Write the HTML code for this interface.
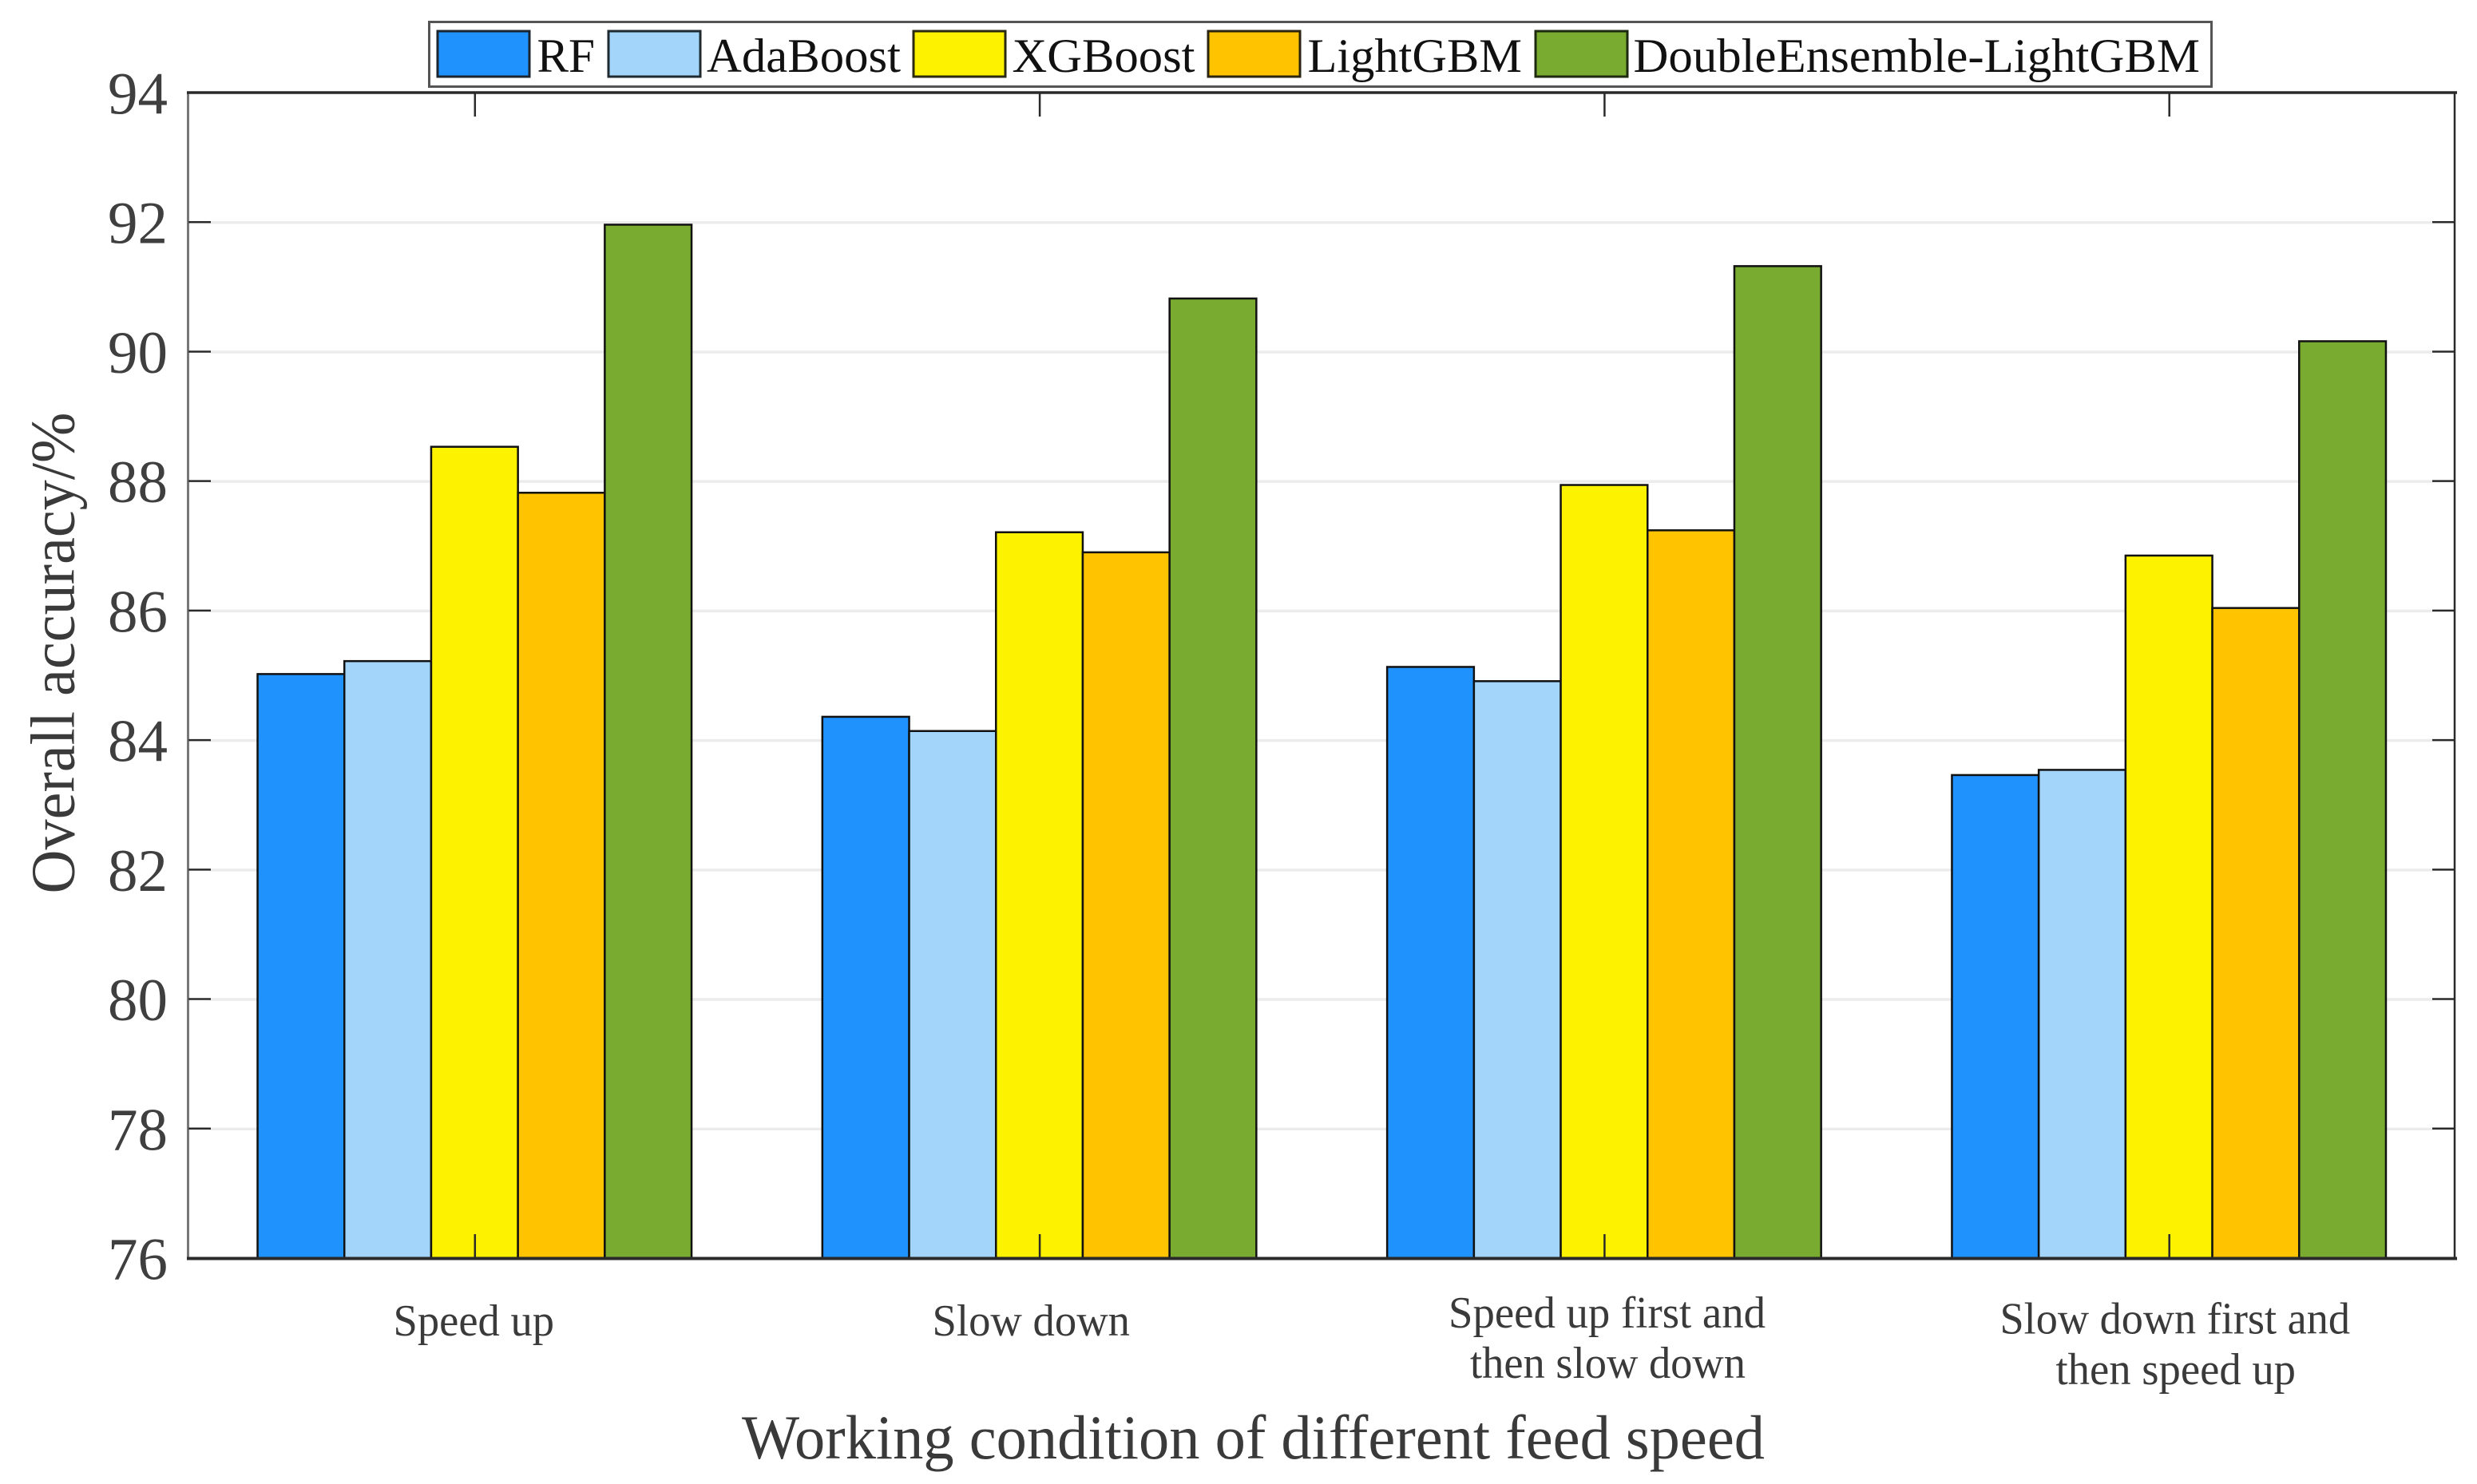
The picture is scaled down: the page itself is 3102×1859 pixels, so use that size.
<!DOCTYPE html>
<html lang="en">
<head>
<meta charset="utf-8">
<title>Overall accuracy by working condition</title>
<style>
html,body{margin:0;padding:0;background:#fff;}
svg{display:block;}
text{font-family:"Liberation Serif",serif;}
</style>
</head>
<body>
<svg id="chart" xmlns="http://www.w3.org/2000/svg" width="3102" height="1859" viewBox="0 0 3102 1859">
  <rect x="0" y="0" width="3102" height="1859" fill="#ffffff"/>
  <g id="grid"></g>
  <g id="bars"></g>
  <g id="axes">
    <line x1="235.5" y1="116" x2="235.5" y2="1578" stroke="#777" stroke-width="3"/>
    <line x1="3074" y1="116" x2="3074" y2="1578" stroke="#2a2a2a" stroke-width="2.5"/>
    <line x1="234" y1="116" x2="3077" y2="116" stroke="#2a2a2a" stroke-width="3.5"/>
    <line x1="234" y1="1576.5" x2="3077" y2="1576.5" stroke="#2a2a2a" stroke-width="4"/>
  </g>
  <g id="ticks"></g>
  <g id="ytick-labels"></g>

  <g font-size="56" fill="#3a3a3a">
    <text x="492.5" y="1673" textLength="201.5" lengthAdjust="spacingAndGlyphs">Speed up</text>
    <text x="1167.5" y="1673" textLength="247.5" lengthAdjust="spacingAndGlyphs">Slow down</text>
    <text x="1814" y="1663" textLength="397" lengthAdjust="spacingAndGlyphs">Speed up first and</text>
    <text x="1841" y="1726" textLength="345" lengthAdjust="spacingAndGlyphs">then slow down</text>
    <text x="2504.5" y="1670.5" textLength="438.5" lengthAdjust="spacingAndGlyphs">Slow down first and</text>
    <text x="2574.5" y="1734" textLength="300.5" lengthAdjust="spacingAndGlyphs">then speed up</text>
  </g>

  <text x="929" y="1827" font-size="78" fill="#3a3a3a" textLength="1281" lengthAdjust="spacingAndGlyphs">Working condition of different feed speed</text>
  <text transform="translate(92.5 1119.5) rotate(-90)" x="0" y="0" font-size="78" fill="#3a3a3a" textLength="603" lengthAdjust="spacingAndGlyphs">Overall accuracy/%</text>

  <g>
    <rect x="537.5" y="27.5" width="2232" height="81" fill="#ffffff" stroke="#555" stroke-width="3"/>
    <g>
      <rect x="548" y="39" width="115" height="57" fill="#2092fe" stroke="#1a2530" stroke-width="3"/>
      <text x="672.5" y="90" font-size="60" fill="#111" textLength="72.5" lengthAdjust="spacingAndGlyphs">RF</text>
    </g>
    <g>
      <rect x="762" y="39" width="115" height="57" fill="#a2d5f9" stroke="#1f2a30" stroke-width="3"/>
      <text x="885" y="90" font-size="60" fill="#111" textLength="243" lengthAdjust="spacingAndGlyphs">AdaBoost</text>
    </g>
    <g>
      <rect x="1144" y="39" width="115" height="57" fill="#fdf200" stroke="#2a2a10" stroke-width="3"/>
      <text x="1267.5" y="90" font-size="60" fill="#111" textLength="229" lengthAdjust="spacingAndGlyphs">XGBoost</text>
    </g>
    <g>
      <rect x="1513" y="39" width="115" height="57" fill="#ffc300" stroke="#2a2410" stroke-width="3"/>
      <text x="1637.5" y="90" font-size="60" fill="#111" textLength="268.5" lengthAdjust="spacingAndGlyphs">LightGBM</text>
    </g>
    <g>
      <rect x="1923" y="39" width="115" height="57" fill="#78ab30" stroke="#1e2a10" stroke-width="3"/>
      <text x="2045.5" y="90" font-size="60" fill="#111" textLength="709.5" lengthAdjust="spacingAndGlyphs">DoubleEnsemble-LightGBM</text>
    </g>
  </g>
</svg>
<script>
const categories = ["Speed up", "Slow down", "Speed up first and then slow down", "Slow down first and then speed up"];
const seriesNames = ["RF", "AdaBoost", "XGBoost", "LightGBM", "DoubleEnsemble-LightGBM"];
const rfValues = [85.02, 84.36, 85.13, 83.46];
const adaBoostValues = [85.22, 84.14, 84.91, 83.54];
const xgBoostValues = [88.53, 87.21, 87.94, 86.85];
const lightGbmValues = [87.82, 86.90, 87.24, 86.04];
const doubleEnsembleValues = [91.96, 90.82, 91.32, 90.16];
const yTickLabels = [76, 78, 80, 82, 84, 86, 88, 90, 92, 94];

const allSeries = [rfValues, adaBoostValues, xgBoostValues, lightGbmValues, doubleEnsembleValues];
const seriesColors = ["#2092fe", "#a2d5f9", "#fdf200", "#ffc300", "#78ab30"];
const NS = "http://www.w3.org/2000/svg";

function slug(s) {
  return String(s).toLowerCase().replace(/[^a-z0-9]+/g, "-");
}
function yScale(v) {
  return 116 + (94 - v) * (1460 / 18);
}
function xScale(i) {
  return 594.3 + i * 707.3;
}
const barWidth = 108.7;

function make(tag, attrs, parentId) {
  const el = document.createElementNS(NS, tag);
  for (const k in attrs) el.setAttribute(k, attrs[k]);
  document.getElementById(parentId).appendChild(el);
  return el;
}

yTickLabels.forEach(function (t) {
  const y = yScale(t);
  if (t !== 76 && t !== 94) {
    const grid = make("line", { x1: 263, y1: y + 0.5, x2: 3046, y2: y + 0.5, stroke: "#ececec", "stroke-width": 3.5 }, "grid");
    
    
    const leftTick = make("line", { x1: 236, y1: y, x2: 264, y2: y, stroke: "#2a2a2a", "stroke-width": 2.5 }, "ticks");
    
    
    const rightTick = make("line", { x1: 3046, y1: y, x2: 3074, y2: y, stroke: "#2a2a2a", "stroke-width": 2.5 }, "ticks");
    
    
  }
  const label = make("text", { x: 135, y: y + 26.5, "font-size": 75, fill: "#3f3f3f", textLength: 75, lengthAdjust: "spacingAndGlyphs" }, "ytick-labels");
  label.textContent = String(t);
  
  
});

categories.forEach(function (c, i) {
  const cx = xScale(i);
  allSeries.forEach(function (values, s) {
    const top = yScale(values[i]);
    const left = cx + (s - seriesNames.length / 2) * barWidth;
    const bar = make("rect", {
      x: left, y: top, width: barWidth, height: yScale(76) - top,
      fill: seriesColors[s], stroke: "#111", "stroke-width": 2.5
    }, "bars");
    
    
  });
  const topTick = make("line", { x1: cx + 0.5, y1: 116, x2: cx + 0.5, y2: 146, stroke: "#2a2a2a", "stroke-width": 2.5 }, "ticks");
  
  
  const bottomTick = make("line", { x1: cx + 0.5, y1: 1546, x2: cx + 0.5, y2: 1576, stroke: "#2a2a2a", "stroke-width": 2.5 }, "ticks");
  
  
});
</script>
</body>
</html>
